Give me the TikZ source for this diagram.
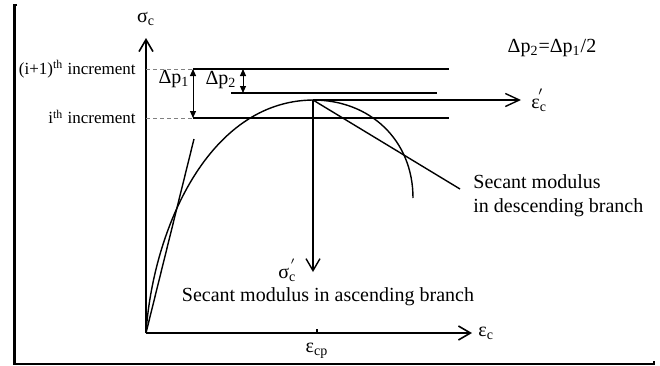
\documentclass[tikz,border=0pt]{standalone}
\usepackage{fontspec}
\setmainfont{Liberation Serif}
\usepackage{tikz}
\usetikzlibrary{arrows.meta}
\newcommand{\sub}[1]{\textsubscript{#1}}

\begin{document}
\begin{tikzpicture}[
  x=0.5pt, y=-0.5pt,
  font=\fontsize{10}{12}\selectfont,
  lbl/.style={inner sep=1pt},
  small/.style={inner sep=1pt, font=\fontsize{8.5}{10}\selectfont},
  ln/.style={line width=0.7pt},
  ax/.style={line width=0.8pt, -{Straight Barb[length=6pt, width=7pt]}},
  dim/.style={line width=0.5pt,
              {Triangle[length=3.5pt, width=3pt]}-{Triangle[length=3.5pt, width=3pt]}},
  guide/.style={line width=0.5pt, gray, dash pattern=on 2pt off 1.5pt}]
\useasboundingbox (0,0) rectangle (660,365);

% frame
\draw[line width=1.3pt] (17,5) -- (14.5,5) -- (14.5,364) -- (654,364) -- (654,361);

% axes
\coordinate (O) at (146,333);
\coordinate (ytip) at (146,38);
\coordinate (xtip) at (472,333);
\coordinate (tick) at (317,333);
\draw[ax] (O) -- (ytip);
\draw[ax] (O) -- (xtip);
\draw[line width=0.7pt] (tick) -- ++(0,-4);
\node[lbl, above=5pt] (sig) at (ytip) {σ\sub{c}};
\node[lbl, right=2pt] (eps) at (xtip) {ε\sub{c}};
\node[lbl, below=4pt] (ecp) at (tick) {ε\sub{cp}};

% increments
\coordinate (u0) at (146,69);  \coordinate (u1) at (193,69);  \coordinate (u2) at (449,69);
\coordinate (l0) at (146,118); \coordinate (l1) at (193,118); \coordinate (l2) at (449,118);
\coordinate (m1) at (231,93);  \coordinate (m2) at (437,93);
\foreach \a/\b/\c in {u0/u1/u2, l0/l1/l2} {
  \draw[guide] (\a) -- (\b);
  \draw[ln] (\b) -- (\c);
}
\draw[ln] (m1) -- (m2);
\node[small, anchor=east] (inc1) at (138,69) {(i+1)\textsuperscript{th} increment};
\node[small, anchor=east] (inc0) at (138,117) {i\textsuperscript{th} increment};

% load steps
\coordinate (d2a) at (243,69); \coordinate (d2b) at (243,93);
\draw[dim] (u1) -- (l1);
\draw[dim] (d2a) -- (d2b);
\node[lbl] (dp1) at (174,79) {Δp\sub{1}};
\node[lbl] (dp2) at (221,80) {Δp\sub{2}};
\node[lbl] (rule) at (552,48) {Δp\sub{2}=Δp\sub{1}/2};

% stress-strain curve
\coordinate (P) at (313,100);
\coordinate (E) at (413,198);
\draw[ln] (O) .. controls (153,230) and (208,101) .. (P)
              .. controls (370,100) and (413,140) .. (E);

% peak
\coordinate (etip) at (521,100);
\coordinate (sdown) at (313,272);
\draw[ln, -{Straight Barb[length=7pt, width=6.5pt]}] (P) -- (etip);
\draw[ln, -{Straight Barb[length=6pt, width=7pt]}] (P) -- (sdown);
\node[lbl, right=4pt] (epsp) at (etip) {ε\sub{c}\kern-0.45em\raisebox{0.6ex}{\small$'$}};
\node[lbl] (sigp) at (287,270) {σ\sub{c}\kern-0.3em\raisebox{0.9ex}{\scriptsize$'$}};

% secant moduli
\coordinate (sa) at (194,139);
\coordinate (sd) at (460,189);
\draw[ln] (O) -- (sa);
\draw[ln] (P) -- (sd);
\node[lbl] (asc) at (328,297) {Secant modulus in ascending branch};
\node[lbl, anchor=west, align=left] (desc) at (471,196)
  {Secant modulus\\in descending branch};
\end{tikzpicture}
\end{document}
